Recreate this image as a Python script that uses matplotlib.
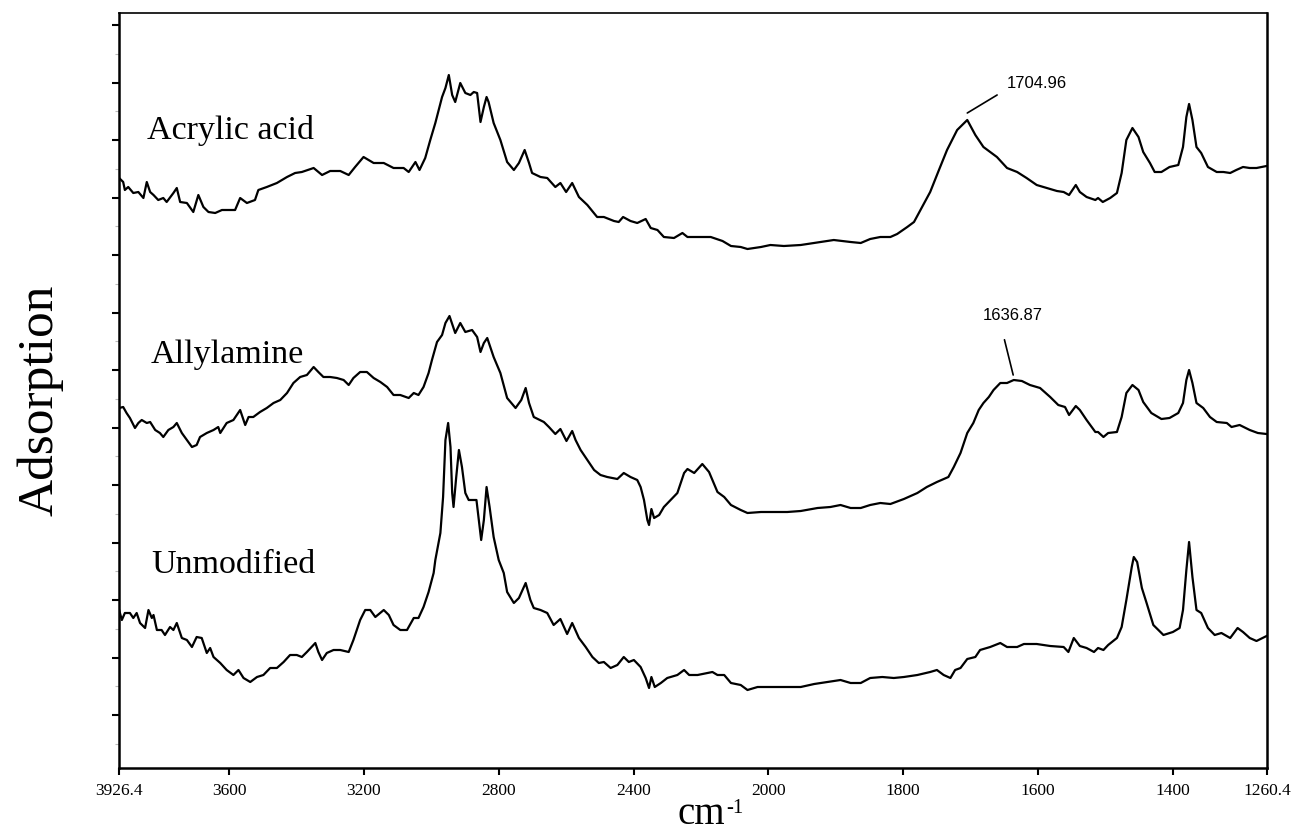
import numpy as np
import matplotlib
matplotlib.use("Agg")
import matplotlib.pyplot as plt
from matplotlib.ticker import FixedLocator

plt.rcParams['font.family'] = ['Liberation Serif', 'DejaVu Serif']

# FTIR spectra (wavenumber cm-1, absorbance in arbitrary units, curves offset)
acrylic_wn = [3926, 3914, 3909, 3899, 3884, 3869, 3854, 3844, 3834, 3824, 3810, 3795, 3785, 3765, 3755,
              3745, 3725, 3706, 3691, 3676, 3661, 3641, 3621, 3597, 3582, 3567, 3547, 3523, 3513, 3488,
              3458, 3428, 3404, 3384, 3349, 3324, 3300, 3270, 3245, 3226, 3201, 3171, 3141, 3112, 3082,
              3067, 3047, 3035, 3018, 3003, 2988, 2968, 2958, 2948, 2938, 2929, 2914, 2899, 2884, 2874,
              2864, 2854, 2844, 2836, 2830, 2815, 2795, 2775, 2755, 2740, 2723, 2710, 2701, 2676, 2656,
              2632, 2617, 2600, 2582, 2562, 2537, 2508, 2488, 2458, 2444, 2431, 2409, 2389, 2364, 2349,
              2329, 2310, 2280, 2255, 2240, 2201, 2171, 2136, 2111, 2082, 2062, 2022, 1997, 1977, 1952,
              1932, 1903, 1878, 1863, 1849, 1834, 1819, 1809, 1794, 1784, 1772, 1760, 1747, 1735, 1720,
              1705, 1693, 1681, 1671, 1661, 1646, 1631, 1617, 1602, 1587, 1572, 1562, 1554, 1544, 1538,
              1528, 1515, 1511, 1504, 1493, 1483, 1476, 1469, 1460, 1451, 1444, 1434, 1427, 1417, 1405,
              1392, 1385, 1380, 1376, 1371, 1365, 1358, 1348, 1335, 1325, 1315, 1306, 1296, 1286, 1276,
              1261]
acrylic_abs = [590, 586, 578, 581, 575, 576, 570, 586, 576, 573, 568, 570, 566, 575, 580,
               566, 565, 556, 573, 561, 556, 555, 558, 558, 558, 570, 565, 568, 578, 581,
               585, 591, 595, 596, 600, 593, 597, 597, 593, 601, 611, 605, 605, 600, 600,
               596, 606, 598, 610, 628, 645, 671, 680, 693, 673, 666, 685, 675, 673, 676,
               675, 646, 661, 671, 666, 645, 628, 606, 598, 605, 618, 605, 595, 591, 590,
               581, 585, 576, 585, 571, 563, 551, 551, 547, 546, 551, 547, 545, 549, 540,
               538, 531, 530, 535, 531, 531, 531, 527, 522, 521, 519, 521, 523, 522, 523,
               525, 528, 526, 525, 529, 531, 531, 534, 541, 546, 561, 576, 598, 618, 638,
               648, 633, 621, 616, 611, 600, 596, 590, 583, 580, 577, 576, 573, 583, 576,
               571, 568, 570, 566, 570, 575, 595, 628, 640, 631, 616, 605, 596, 596, 601,
               603, 621, 651, 664, 648, 621, 615, 601, 596, 596, 595, 598, 601, 600, 600,
               602]

allyl_wn = [3926, 3914, 3904, 3894, 3879, 3869, 3859, 3844, 3834, 3819, 3805, 3795, 3780, 3765, 3755,
            3740, 3725, 3710, 3696, 3686, 3666, 3646, 3632, 3626, 3607, 3587, 3567, 3552, 3542, 3528,
            3508, 3488, 3468, 3448, 3428, 3409, 3389, 3369, 3349, 3335, 3320, 3300, 3280, 3260, 3245,
            3231, 3211, 3191, 3171, 3151, 3131, 3112, 3092, 3067, 3052, 3038, 3023, 3008, 2998, 2983,
            2968, 2958, 2946, 2929, 2914, 2899, 2879, 2864, 2854, 2844, 2834, 2815, 2795, 2775, 2750,
            2733, 2720, 2710, 2696, 2666, 2651, 2632, 2617, 2599, 2582, 2572, 2557, 2537, 2517, 2498,
            2478, 2448, 2429, 2409, 2389, 2379, 2369, 2359, 2354, 2347, 2339, 2324, 2310, 2290, 2270,
            2250, 2240, 2220, 2196, 2176, 2151, 2131, 2111, 2082, 2062, 2022, 1992, 1972, 1952, 1927,
            1908, 1893, 1878, 1863, 1849, 1834, 1819, 1799, 1779, 1765, 1750, 1733, 1725, 1715, 1705,
            1696, 1688, 1681, 1673, 1666, 1656, 1646, 1636, 1624, 1612, 1597, 1582, 1570, 1560, 1554,
            1544, 1538, 1528, 1515, 1511, 1503, 1496, 1483, 1476, 1469, 1460, 1451, 1444, 1432, 1417,
            1405, 1392, 1385, 1380, 1376, 1371, 1365, 1355, 1345, 1335, 1320, 1313, 1301, 1286, 1274,
            1261]
allyl_abs = [360, 361, 355, 350, 340, 345, 348, 345, 346, 338, 335, 331, 338, 341, 345,
             335, 328, 321, 323, 331, 335, 338, 341, 335, 345, 348, 358, 343, 351, 351,
             356, 360, 365, 368, 375, 385, 391, 393, 401, 396, 391, 391, 390, 388, 383,
             390, 396, 396, 390, 386, 381, 373, 373, 370, 375, 373, 381, 395, 408, 426,
             433, 445, 452, 435, 445, 436, 438, 431, 416, 425, 430, 411, 395, 370, 360,
             368, 380, 365, 351, 346, 341, 334, 339, 327, 337, 328, 318, 308, 298, 293,
             291, 289, 295, 291, 288, 281, 268, 248, 243, 259, 250, 253, 261, 268, 275,
             295, 299, 295, 304, 296, 276, 271, 263, 258, 255, 256, 256, 256, 257, 260,
             261, 263, 260, 260, 263, 265, 264, 269, 275, 281, 286, 291, 301, 315, 335,
             345, 358, 365, 371, 378, 385, 385, 388, 387, 383, 380, 371, 363, 361, 353,
             362, 358, 348, 336, 336, 331, 335, 336, 351, 375, 383, 378, 366, 355, 349,
             350, 355, 365, 388, 398, 385, 365, 360, 351, 346, 345, 341, 343, 338, 335,
             334]

unmod_wn = [3926, 3918, 3909, 3894, 3884, 3874, 3864, 3849, 3839, 3829, 3824, 3814, 3800, 3790, 3775,
            3765, 3755, 3740, 3725, 3710, 3696, 3681, 3666, 3656, 3646, 3626, 3607, 3587, 3572, 3557,
            3537, 3517, 3498, 3478, 3458, 3438, 3419, 3399, 3384, 3369, 3344, 3335, 3324, 3310, 3290,
            3270, 3245, 3231, 3211, 3196, 3181, 3166, 3141, 3126, 3112, 3092, 3072, 3052, 3038, 3023,
            3008, 2993, 2988, 2973, 2965, 2958, 2950, 2943, 2938, 2934, 2926, 2918, 2909, 2899, 2889,
            2879, 2866, 2859, 2852, 2844, 2836, 2827, 2815, 2800, 2785, 2775, 2755, 2740, 2720, 2706,
            2696, 2676, 2656, 2637, 2617, 2597, 2582, 2562, 2542, 2522, 2503, 2488, 2468, 2448, 2429,
            2414, 2399, 2379, 2364, 2354, 2347, 2337, 2319, 2300, 2270, 2250, 2235, 2210, 2166, 2151,
            2131, 2111, 2082, 2062, 2032, 2003, 1977, 1952, 1932, 1913, 1893, 1878, 1863, 1849, 1831,
            1814, 1799, 1779, 1760, 1750, 1740, 1730, 1723, 1715, 1705, 1693, 1686, 1671, 1656, 1646,
            1631, 1621, 1602, 1582, 1562, 1555, 1547, 1538, 1528, 1517, 1511, 1503, 1496, 1483, 1476,
            1469, 1461, 1458, 1453, 1446, 1439, 1429, 1414, 1400, 1390, 1385, 1380, 1376, 1371, 1365,
            1358, 1348, 1338, 1328, 1315, 1304, 1296, 1286, 1276, 1261]
unmod_abs = [158, 148, 155, 155, 150, 155, 145, 140, 158, 150, 153, 138, 138, 133, 141,
             138, 145, 130, 128, 121, 131, 130, 115, 120, 111, 105, 98, 93, 98, 90,
             86, 91, 93, 100, 100, 106, 113, 113, 111, 116, 125, 116, 108, 115, 118,
             118, 116, 128, 148, 158, 158, 151, 158, 153, 143, 138, 138, 150, 150, 161,
             176, 195, 208, 235, 271, 328, 345, 321, 275, 261, 291, 318, 301, 275, 268,
             268, 268, 248, 228, 248, 281, 261, 231, 208, 195, 176, 165, 170, 185, 168,
             160, 158, 155, 143, 149, 134, 145, 130, 121, 111, 105, 106, 100, 103, 111,
             106, 108, 101, 90, 80, 91, 81, 85, 90, 93, 98, 93, 93, 96, 93,
             93, 85, 83, 78, 81, 81, 81, 81, 84, 86, 88, 85, 85, 90, 91,
             90, 91, 93, 96, 98, 93, 90, 98, 100, 109, 111, 118, 121, 125, 121,
             121, 124, 124, 122, 121, 116, 130, 122, 120, 116, 120, 118, 123, 130, 141,
             168, 201, 211, 206, 180, 165, 143, 133, 136, 140, 158, 198, 226, 191, 158,
             155, 140, 133, 135, 130, 140, 136, 130, 127, 132]

sample_names = ['Acrylic acid', 'Allylamine', 'Unmodified']
label_pos = [(3843, 638), (3834, 413), (3831, 203)]
peak_labels = [1704.96, 1636.87]
x_ticks = [3926.4, 3600, 3200, 2800, 2400, 2000, 1800, 1600, 1400, 1260.4]
x_tick_labels = ['3926.4', '3600', '3200', '2800', '2400', '2000', '1800', '1600', '1400', '1260.4']


# the spectrometer axis doubles its scale below 2000 cm-1
def fwd(x):
    x = np.asarray(x, dtype=float)
    return np.where(x >= 2000, x, 2 * x - 2000)


def inv(y):
    y = np.asarray(y, dtype=float)
    return np.where(y >= 2000, y, (y + 2000) / 2)


fig = plt.figure(figsize=(12.91, 8.34), dpi=100)
ax = fig.add_axes([119 / 1291, 66 / 834, 1148 / 1291, 755 / 834])
ax.set_xscale('function', functions=(fwd, inv))

for wn, a in [(acrylic_wn, acrylic_abs), (allyl_wn, allyl_abs), (unmod_wn, unmod_abs)]:
    ax.plot(wn, a, color='black', lw=1.6, solid_joinstyle='round')

ax.set_xlim(3926.4, 1260.4)
ax.set_ylim(0, 755)

ax.xaxis.set_major_locator(FixedLocator(x_ticks))
ax.set_xticklabels(x_tick_labels)
ax.tick_params(axis='x', direction='out', length=5, width=1.5, labelsize=12.5, pad=6)
ax.yaxis.set_major_locator(FixedLocator(np.arange(53, 750, 57.5)))
ax.yaxis.set_minor_locator(FixedLocator(np.arange(24.25, 750, 57.5)))
ax.tick_params(axis='y', which='major', direction='out', length=5, width=1.5, labelleft=False)
ax.tick_params(axis='y', which='minor', direction='out', length=3, width=0.8, color='#bbbbbb')

for side in ['left', 'bottom', 'right']:
    ax.spines[side].set_linewidth(1.8)
ax.spines['top'].set_linewidth(1.2)

for name, (x, y) in zip(sample_names, label_pos):
    ax.text(x, y, name, fontsize=24.5, ha='left', va='center')

# peak markers
ax.annotate(f'{peak_labels[0]:.2f}', xy=(peak_labels[0], 655), xytext=(1646, 685),
            fontsize=12, family='Liberation Sans', ha='left', va='center',
            arrowprops=dict(arrowstyle='-', lw=1.2, color='black', relpos=(0, 0.1),
                            shrinkA=6, shrinkB=0))
ax.annotate(f'{peak_labels[1]:.2f}', xy=(peak_labels[1], 393), xytext=(1638, 452),
            fontsize=12, family='Liberation Sans', ha='center', va='center',
            arrowprops=dict(arrowstyle='-', lw=1.2, color='black', relpos=(0.3, 0),
                            shrinkA=10, shrinkB=0))

fig.text(40 / 1291, 1 - 400 / 834, 'Adsorption', rotation=90, fontsize=37,
         ha='center', va='center')
# axis unit: "cm" with a small raised "-1"
fig.text(725 / 1291, 1 - 824 / 834, 'cm', fontsize=28, ha='right', va='baseline')
fig.text(726 / 1291, 1 - 799 / 834, '-1', fontsize=15, ha='left', va='top')

fig.savefig('out.png', dpi=100)
